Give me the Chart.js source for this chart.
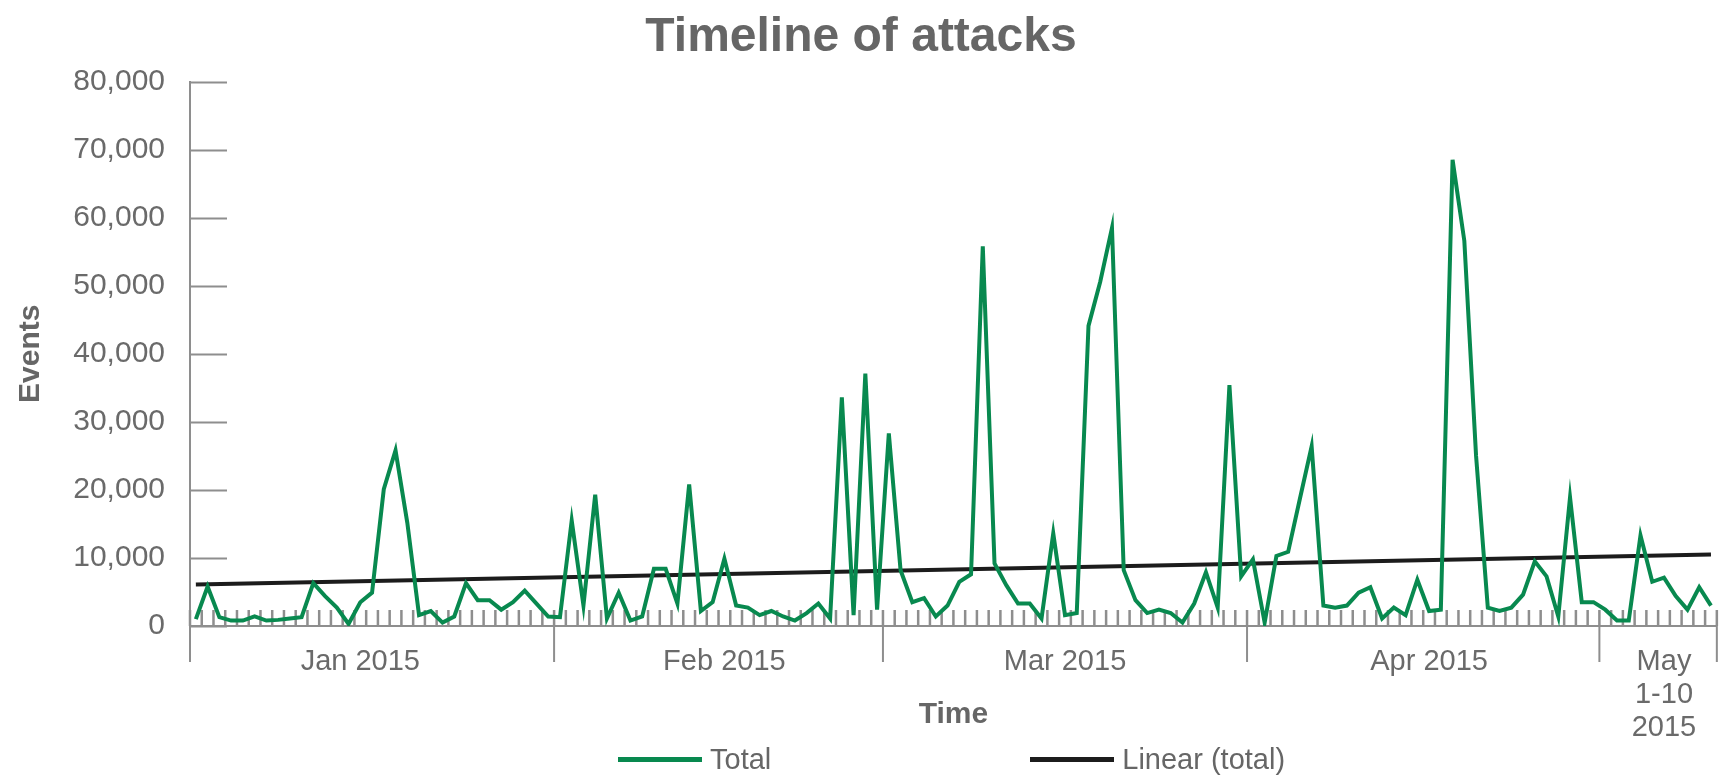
<!DOCTYPE html>
<html>
<head>
<meta charset="utf-8">
<title>Timeline of attacks</title>
<script src="https://cdn.jsdelivr.net/npm/chart.js@4.4.1/dist/chart.umd.min.js"></script>
<style>
  html, body { margin: 0; padding: 0; background: #fff; }
  #chart-wrap { position: relative; width: 1730px; height: 778px; }
  #legend {
    position: absolute; left: 618px; top: 741px;
    display: flex; gap: 259px;
    font: 29px 'Liberation Sans', Arial, sans-serif; line-height: 36px; color: #666;
  }
  #legend .item { display: flex; align-items: center; }
  #legend .swatch { width: 84px; height: 5px; margin-right: 8px; }
</style>
</head>
<body>
<div id="chart-wrap">
  <canvas id="timeline" width="1730" height="778"></canvas>
  <div id="legend"></div>
</div>
<script>
// Daily event totals
var janTotals = [1000, 5800, 1300, 800, 800, 1400, 800, 900, 1100, 1300, 6300, 4400, 2700, 300, 3500, 4900,
  20100, 25800, 15200, 1600, 2200, 500, 1400, 6300, 3800, 3800, 2400, 3500, 5200, 3300, 1400];
var febTotals = [1300, 15500, 3000, 19300, 1100, 4900, 800, 1400, 8400, 8400, 3300, 20800, 2200, 3500,
  9900, 3000, 2700, 1600, 2200, 1400, 800, 1900, 3300, 1100, 33600, 1600, 37100, 2400];
var marTotals = [28300, 8200, 3500, 4100, 1400, 3000, 6500, 7600, 55800, 9200, 6000, 3300, 3300, 1100, 13600,
  1600, 1900, 44100, 50600, 58500, 8200, 3800, 1900, 2400, 1900, 500, 3300, 7900, 2700, 35400, 7300];
var aprTotals = [9800, 500, 10300, 10900, 18700, 26400, 3000, 2700, 3000, 4900, 5700, 1100, 2700, 1600, 6800,
  2200, 2400, 68500, 56600, 25000, 2700, 2200, 2700, 4600, 9500, 7300, 1400, 18900, 3500, 3500];
var mayTotals = [2400, 800, 800, 13300, 6500, 7100, 4400, 2400, 5700, 3000];

var monthNames = ['Jan 2015', 'Feb 2015', 'Mar 2015', 'Apr 2015', ['May', '1-10', '2015']];
var monthShort = ['Jan', 'Feb', 'Mar', 'Apr', 'May'];
var monthTotals = [janTotals, febTotals, marTotals, aprTotals, mayTotals];
// which day of the month carries the month label
var monthLabelDay = [14, 14, 15, 15, 5];

// Linear (total) trendline, value at first and last day
var trendTotals = [6100, 10500];

var yMax = 80000;
var yStep = 10000;

var textColor = '#6a6a6a';
var axisColor = '#8e8e8e';

// one category per day
var dayLabels = [];
var totals = [];
var monthStarts = [];
var monthMiddles = {};
monthTotals.forEach(function (days, m) {
  monthStarts.push(dayLabels.length);
  monthMiddles[dayLabels.length + monthLabelDay[m]] = monthNames[m];
  days.forEach(function (value, d) {
    dayLabels.push(monthShort[m] + ' ' + (d + 1));
    totals.push(value);
  });
});
monthStarts.push(dayLabels.length);

// Tick marks the way the original has them: inward on y, day ticks above x, month dividers below x
var axisMarks = {
  id: 'axisMarks',
  beforeDatasetsDraw: function (chart) {
    var ctx = chart.ctx;
    var area = chart.chartArea;
    var x = chart.scales.x;
    var y = chart.scales.y;
    var w = x.getPixelForValue(1) - x.getPixelForValue(0);
    var edge = function (i) { return x.getPixelForValue(0) + (i - 0.5) * w; };

    ctx.save();
    ctx.strokeStyle = axisColor;
    ctx.lineWidth = 2;
    ctx.beginPath();
    y.ticks.forEach(function (t) {
      var py = Math.round(y.getPixelForValue(t.value)) + 0.5;
      ctx.moveTo(area.left, py);
      ctx.lineTo(area.left + 37, py);
    });
    monthStarts.forEach(function (i) {
      ctx.moveTo(edge(i), area.bottom);
      ctx.lineTo(edge(i), area.bottom + 36);
    });
    ctx.stroke();

    ctx.lineWidth = 2.5;
    ctx.beginPath();
    for (var i = 0; i <= dayLabels.length; i++) {
      ctx.moveTo(edge(i), area.bottom);
      ctx.lineTo(edge(i), area.bottom - 16);
    }
    ctx.stroke();
    ctx.restore();
  }
};

Chart.defaults.font.family = "'Liberation Sans', Arial, sans-serif";

var chart = new Chart(document.getElementById('timeline'), {
  type: 'line',
  data: {
    labels: dayLabels,
    datasets: [{
      label: 'Total',
      data: totals,
      borderColor: '#08894f',
      backgroundColor: '#08894f',
      borderWidth: 4,
      pointRadius: 0,
      tension: 0
    }, {
      label: 'Linear (total)',
      data: [
        {x: dayLabels[0], y: trendTotals[0]},
        {x: dayLabels[dayLabels.length - 1], y: trendTotals[1]}
      ],
      borderColor: '#1c1c1c',
      backgroundColor: '#1c1c1c',
      borderWidth: 4,
      pointRadius: 0,
      tension: 0
    }]
  },
  options: {
    responsive: false,
    animation: false,
    layout: {
      padding: {right: 8, bottom: 30}
    },
    plugins: {
      legend: {display: false},
      tooltip: {enabled: false},
      title: {
        display: true,
        text: 'Timeline of attacks',
        color: '#666',
        font: {size: 48, weight: 'bold'},
        padding: {top: 9, bottom: 15}
      }
    },
    scales: {
      x: {
        offset: true,
        grid: {display: false, drawTicks: false},
        border: {color: axisColor, width: 2},
        ticks: {
          autoSkip: false,
          maxRotation: 0,
          minRotation: 0,
          padding: 19,
          color: textColor,
          font: {size: 29, lineHeight: 1.15},
          callback: function (value, index) {
            return monthMiddles[index] || '';
          }
        },
        title: {
          display: true,
          text: 'Time',
          color: '#666',
          font: {size: 30, weight: 'bold'},
          padding: {top: 0, bottom: 15}
        },
        afterFit: function (scale) { scale.height = 122; }
      },
      y: {
        min: 0,
        max: yMax,
        grid: {display: false, drawTicks: false},
        border: {color: axisColor, width: 2},
        ticks: {
          stepSize: yStep,
          padding: 25,
          color: textColor,
          font: {size: 30}
        },
        title: {
          display: true,
          text: 'Events',
          color: '#666',
          font: {size: 30, weight: 'bold'},
          padding: {top: 13, bottom: 0}
        },
        afterFit: function (scale) { scale.width = 190; }
      }
    }
  },
  plugins: [axisMarks]
});

// HTML legend, spaced like the original
var legendEl = document.getElementById('legend');
chart.data.datasets.forEach(function (ds) {
  var item = document.createElement('div');
  item.className = 'item';
  var swatch = document.createElement('span');
  swatch.className = 'swatch';
  swatch.style.background = ds.borderColor;
  var text = document.createElement('span');
  text.textContent = ds.label;
  item.appendChild(swatch);
  item.appendChild(text);
  legendEl.appendChild(item);
});
</script>
</body>
</html>
